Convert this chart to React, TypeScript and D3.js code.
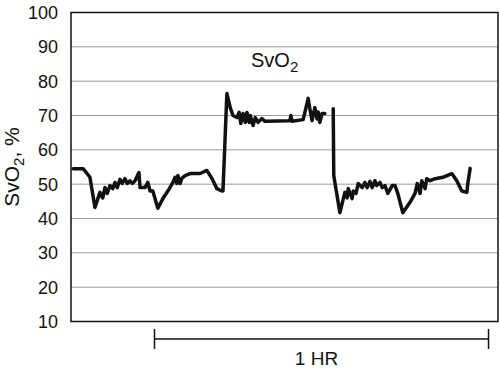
import { useEffect, useRef } from 'react'
import * as d3 from 'd3'

// time in minutes from the left edge, SvO2 in %
const segment1Time = [0.4, 2.2, 3.4, 4.3, 5.2, 5.7, 6.1, 6.5, 7.0, 7.5, 7.9, 8.3, 8.8, 9.2, 9.7, 10.1, 10.6, 11.0, 11.5, 12.2, 12.4, 13.3, 13.8, 14.2, 14.7, 15.6, 16.5, 17.4, 18.3, 18.7, 19.0, 19.2, 19.6, 19.9, 20.5, 21.4, 23.2, 24.4, 25.3, 26.2, 27.1, 27.3, 28.0, 28.6, 29.1, 29.8, 30.2, 30.5, 30.9, 31.3, 31.6, 32.0, 32.2, 32.7, 33.1, 33.6, 34.3, 34.8, 39.3, 39.5, 39.7, 41.7, 42.6, 42.9, 43.3, 43.8, 44.2, 44.4, 44.7, 45.1, 45.6]
const segment1Value = [54.5, 54.5, 52, 43.2, 47.6, 46, 49, 47.3, 49.6, 48.7, 50.5, 49, 51.4, 50.2, 51.6, 50.2, 51, 50.2, 51, 53.4, 49, 49, 50.5, 48, 48, 43, 45.8, 48, 50.5, 52, 50.2, 52.5, 50.2, 51.7, 52.5, 53.1, 53.1, 54, 51.7, 48.7, 48, 48, 76.4, 72.3, 70, 69.4, 70.9, 67.7, 70.6, 68, 70.9, 68, 70, 67.1, 69.4, 68, 69.1, 68.3, 68.5, 70, 68.3, 68.8, 75, 72, 68.5, 72.3, 69, 71, 68, 70.6, 70.6]
const segment2Time = [47.1, 47.2, 47.6, 48.3, 49.2, 49.6, 49.8, 50.5, 50.7, 51.2, 51.6, 52.3, 52.8, 53.2, 53.7, 54.1, 54.6, 54.9, 55.5, 55.9, 56.4, 56.9, 57.7, 58.2, 58.7, 59.6, 60.9, 61.8, 62.2, 62.7, 63.0, 63.6, 63.9, 64.5, 65.4, 66.8, 68.4, 69.3, 70.2, 71.1, 71.3, 71.7]
const segment2Value = [72, 52.5, 48.5, 41.7, 47.6, 46, 48.7, 45.8, 48, 47.3, 50.2, 49, 50.5, 49, 50.8, 49, 51, 49.6, 50.5, 49, 49.6, 47.3, 49.6, 49.6, 47.3, 41.7, 44.7, 47.3, 50.2, 47.3, 51, 48.7, 51.6, 51, 51.6, 52, 53.1, 51, 48, 47.6, 50.5, 54.6]

const yTicks = [10, 20, 30, 40, 50, 60, 70, 80, 90, 100]
const timeSpan = [0, 76.7]
const hourBar = [15, 75]

export default function App() {
  const svgRef = useRef<SVGSVGElement>(null)

  useEffect(() => {
    const svg = svgRef.current
    if (!svg) return
    d3.select(svg).selectAll('*').remove()

    const W = 500, H = 369
    const left = 71, right = 498, top = 12.5, bottom = 321.5
    const font = 'Liberation Sans, Arial, sans-serif'

    const root = d3.select(svg).attr('width', W).attr('height', H)
    const x = d3.scaleLinear().domain(timeSpan).range([left, right])
    const y = d3.scaleLinear().domain([10, 100]).range([bottom, top])

    // gridlines
    root.append('g').selectAll('line')
      .data(yTicks.filter(t => t > 10 && t < 100))
      .join('line')
      .attr('x1', left).attr('x2', right)
      .attr('y1', d => y(d)).attr('y2', d => y(d))
      .attr('stroke', '#9a9a9a').attr('stroke-width', 1)

    // tick labels
    root.append('g').selectAll('text')
      .data(yTicks)
      .join('text')
      .attr('x', 58).attr('y', d => y(d))
      .attr('dy', '0.36em')
      .attr('text-anchor', 'end')
      .attr('font-family', font).attr('font-size', 18).attr('fill', '#111')
      .text(d => d)

    // frame
    root.append('rect')
      .attr('x', left).attr('y', top)
      .attr('width', right - left).attr('height', bottom - top)
      .attr('fill', 'none').attr('stroke', '#111').attr('stroke-width', 1.5)

    const path = (times: number[], values: number[]) =>
      d3.line<number>().x(t => x(t)).y((_, i) => y(values[i]))(times)

    root.append('g').selectAll('path')
      .data([[segment1Time, segment1Value], [segment2Time, segment2Value]])
      .join('path')
      .attr('d', d => path(d[0], d[1]))
      .attr('fill', 'none').attr('stroke', '#111')
      .attr('stroke-width', 3.5).attr('stroke-linejoin', 'round').attr('stroke-linecap', 'round')

    // series label
    const title = root.append('text')
      .attr('x', 251).attr('y', 67)
      .attr('font-family', font).attr('font-size', 20).attr('fill', '#111')
    title.append('tspan').text('SvO')
    title.append('tspan').attr('font-size', 15).attr('dy', 5).text('2')

    // y axis title
    const yl = root.append('text')
      .attr('transform', `translate(19,167) rotate(-90)`)
      .attr('text-anchor', 'middle')
      .attr('font-family', font).attr('font-size', 21).attr('fill', '#111')
    yl.append('tspan').text('SvO')
    yl.append('tspan').attr('font-size', 15).attr('dy', 5).text('2')
    yl.append('tspan').attr('dy', -5).text(', %')

    // 1 hour scale bar
    const barY = 339
    const bar = root.append('g').attr('stroke', '#111').attr('stroke-width', 1.5)
    bar.append('line').attr('x1', x(hourBar[0])).attr('x2', x(hourBar[1])).attr('y1', barY).attr('y2', barY)
    bar.selectAll('line.end').data(hourBar).join('line').attr('class', 'end')
      .attr('x1', d => x(d)).attr('x2', d => x(d)).attr('y1', barY - 10).attr('y2', barY + 10)
    root.append('text')
      .attr('x', (x(hourBar[0]) + x(hourBar[1])) / 2 - 5).attr('y', 365)
      .attr('text-anchor', 'middle')
      .attr('font-family', font).attr('font-size', 19).attr('fill', '#111')
      .text('1 HR')
  }, [])

  return <svg ref={svgRef} style={{ position: 'absolute', left: 0, top: 0 }} />
}
